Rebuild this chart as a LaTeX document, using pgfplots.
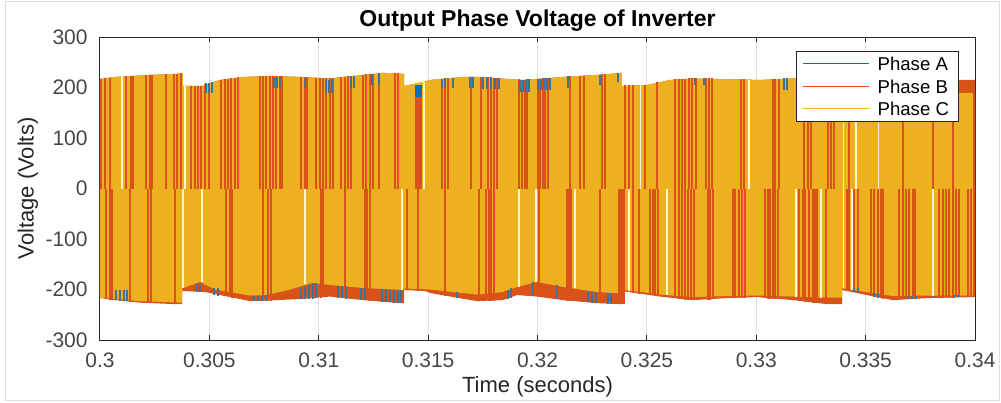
\documentclass[border=0pt]{standalone}
\usepackage{fontspec}
\setmainfont{Liberation Sans}
\usepackage{pgfplots}
\pgfplotsset{compat=1.18}
\usepackage{pgfplotstable}
\definecolor{phA}{RGB}{0,114,189}
\definecolor{phAmix}{RGB}{60,115,150}
\definecolor{phB}{RGB}{217,83,25}
\definecolor{phC}{RGB}{237,177,32}
\definecolor{axgray}{RGB}{38,38,38}
\definecolor{tickgray}{RGB}{70,70,70}
\definecolor{gridgray}{RGB}{222,222,222}
\definecolor{bordergray}{RGB}{222,222,222}
\definecolor{gapcol}{RGB}{255,246,215}

% Phase B envelope (upper edge left->right, lower edge right->left)
\pgfplotstableread{
x y
0.30000 217
0.30069 221
0.30229 225
0.30343 227
0.30379 228
0.30379 203
0.30471 203
0.30503 209
0.30549 215
0.30663 221
0.30777 223
0.30914 221
0.31051 218
0.31202 225
0.31294 229
0.31390 227
0.31390 203
0.31477 211
0.31509 215
0.31659 221
0.31737 221
0.31861 217
0.31934 215
0.32117 221
0.32272 225
0.32386 229
0.32386 203
0.32501 205
0.32606 215
0.32711 218
0.33017 215
0.33168 218
0.33429 217
0.33657 216
0.34000 215
0.34000 -215
0.33781 -217
0.33625 -221
0.33506 -211
0.33392 -201
0.33392 -229
0.33323 -229
0.33168 -221
0.33003 -215
0.32866 -217
0.32711 -221
0.32560 -214
0.32386 -203
0.32386 -229
0.32272 -227
0.32117 -221
0.31998 -214
0.31906 -211
0.31842 -221
0.31723 -223
0.31509 -207
0.31486 -203
0.31390 -201
0.31390 -227
0.31371 -227
0.31202 -221
0.31051 -214
0.30914 -219
0.30754 -222
0.30686 -223
0.30594 -215
0.30480 -205
0.30375 -203
0.30375 -229
0.30343 -229
0.30183 -226
0.30069 -221
0.30000 -217
}\bandB

% Phase C envelope
\pgfplotstableread{
x y
0.30000 217
0.30069 221
0.30229 225
0.30343 227
0.30379 228
0.30379 203
0.30471 203
0.30503 209
0.30549 215
0.30663 221
0.30777 223
0.30914 221
0.31051 218
0.31202 225
0.31294 229
0.31390 227
0.31390 203
0.31477 211
0.31509 215
0.31659 221
0.31737 221
0.31861 217
0.31934 215
0.32117 221
0.32272 225
0.32386 229
0.32386 203
0.32501 205
0.32606 215
0.32711 218
0.33017 215
0.33168 218
0.33429 217
0.33657 216
0.33922 215
0.33922 189
0.34000 189
0.34000 -212
0.33781 -212
0.33625 -213
0.33506 -205
0.33392 -198
0.33392 -216
0.33323 -216
0.33168 -214
0.33003 -212
0.32866 -213
0.32711 -215
0.32560 -210
0.32386 -200
0.32386 -208
0.32272 -205
0.32117 -195
0.31998 -185
0.31906 -195
0.31842 -205
0.31723 -210
0.31509 -200
0.31390 -198
0.31390 -201
0.31202 -197
0.31051 -191
0.30974 -187
0.30869 -200
0.30763 -211
0.30686 -212
0.30526 -200
0.30457 -185
0.30375 -198
0.30375 -226
0.30183 -223
0.30069 -219
0.30000 -216
}\bandC

% Phase B switching pulses, positive half
\pgfplotstableread{
x y
0.30005 217
0.30023 218
0.30046 219
0.30119 222
0.30142 223
0.30151 223
0.30210 225
0.30229 225
0.30238 225
0.30302 226
0.30338 227
0.30352 227
0.30370 228
0.30416 203
0.30434 203
0.30448 203
0.30462 203
0.30480 206
0.30498 208
0.30553 215
0.30571 216
0.30585 217
0.30599 218
0.30617 219
0.30631 220
0.30731 222
0.30745 222
0.30759 223
0.30777 223
0.30791 223
0.30805 223
0.30823 222
0.30832 222
0.30919 221
0.30937 220
0.30946 220
0.30987 219
0.31006 219
0.31019 219
0.31033 218
0.31051 218
0.31065 219
0.31102 220
0.31120 221
0.31134 222
0.31147 223
0.31202 225
0.31216 226
0.31234 226
0.31248 227
0.31275 228
0.31349 228
0.31362 228
0.31563 217
0.31577 218
0.31591 218
0.31696 221
0.31742 221
0.31774 220
0.31787 220
0.31801 219
0.31815 219
0.31915 216
0.31929 215
0.31943 215
0.31952 216
0.32002 217
0.32011 217
0.32025 218
0.32034 218
0.32048 218
0.32149 222
0.32194 223
0.32213 223
0.32295 226
0.32309 226
0.32400 204
0.32418 204
0.32437 204
0.32491 205
0.32546 210
0.32629 216
0.32647 216
0.32661 216
0.32674 216
0.32693 218
0.32706 218
0.32725 218
0.32770 218
0.32784 218
0.32798 218
0.32930 216
0.32944 216
0.33077 217
0.33086 217
0.33104 217
0.33218 218
0.33237 218
0.33250 218
0.33328 217
0.33342 217
0.33355 217
0.33424 217
0.33671 216
0.33808 216
0.33899 215
0.33995 215
}\stripesUp

% Phase B switching pulses, negative half
\pgfplotstableread{
x y
0.30027 -219
0.30046 -220
0.30055 -220
0.30137 -224
0.30219 -227
0.30233 -227
0.30343 -229
0.30576 -213
0.30594 -215
0.30603 -216
0.30745 -222
0.30768 -222
0.30782 -222
0.31010 -216
0.31019 -215
0.31120 -217
0.31211 -221
0.31221 -221
0.31234 -222
0.31403 -201
0.31454 -202
0.31577 -212
0.31733 -223
0.31765 -222
0.31778 -222
0.31787 -222
0.31801 -222
0.32007 -215
0.32135 -222
0.32144 -222
0.32153 -222
0.32286 -227
0.32437 -207
0.32464 -209
0.32514 -210
0.32528 -211
0.32537 -212
0.32551 -213
0.32629 -217
0.32647 -218
0.32661 -219
0.32674 -220
0.32688 -220
0.32702 -221
0.32715 -221
0.32779 -220
0.32789 -220
0.32802 -219
0.32894 -217
0.32903 -217
0.32921 -216
0.32935 -216
0.32949 -216
0.33040 -217
0.33054 -218
0.33063 -218
0.33077 -219
0.33086 -219
0.33099 -219
0.33195 -222
0.33214 -223
0.33223 -224
0.33241 -225
0.33319 -229
0.33447 -205
0.33465 -207
0.33525 -213
0.33538 -214
0.33557 -216
0.33570 -217
0.33579 -218
0.33653 -220
0.33671 -219
0.33685 -219
0.33698 -219
0.33717 -218
0.33726 -218
0.33835 -217
0.33854 -216
0.33867 -216
0.33881 -216
0.33899 -216
0.33913 -215
0.33927 -215
0.33968 -215
0.33982 -215
0.33995 -215
}\stripesDown

% switching gaps of Phase C
\pgfplotstableread{
x y
0.30101 222
0.30389 203
0.31481 211
0.32469 205
0.32967 215
0.33397 217
0.33456 217
0.33557 216
0.30379 -198
0.30466 -186
0.30937 -190
0.31381 -201
0.31915 -195
0.31993 -186
0.32171 -197
0.32418 -202
0.32592 -211
0.33182 -214
0.33296 -216
0.33397 -198
0.33438 -200
0.33808 -212
}\gaps

\begin{document}
\begin{tikzpicture}
\useasboundingbox (0,0) rectangle (500.5pt,201pt);
\draw[bordergray, line width=0.5pt] (2.5pt,0.8pt) rectangle (499.5pt,200pt);
\begin{axis}[
  at={(50pt,31pt)}, anchor=south west,
  scale only axis, width=437.5pt, height=151.5pt,
  xmin=0.3, xmax=0.34, ymin=-300, ymax=300,
  xtick={0.3,0.305,0.31,0.315,0.32,0.325,0.33,0.335,0.34},
  xticklabels={0.3,0.305,0.31,0.315,0.32,0.325,0.33,0.335,0.34},
  ytick={-300,-200,-100,0,100,200,300},
  yticklabels={-300,-200,-100,0,100,200,300},
  scaled x ticks=false,
  tick align=inside, major tick length=2.5pt,
  axis line style={axgray, line width=0.5pt},
  tick style={axgray, line width=0.5pt},
  xmajorgrids, ymajorgrids,
  grid style={gridgray, line width=0.5pt},
  xticklabel style={anchor=base, yshift=-13.5pt, text=tickgray, font=\fontsize{10.5}{12}\selectfont},
  yticklabel style={anchor=east, inner sep=0pt, xshift=-6pt, text=tickgray, font=\fontsize{10.5}{12}\selectfont},
  title={Output Phase Voltage of Inverter},
  every axis title/.style={at={(axis description cs:0.5,1.0363)}, anchor=base, font=\bfseries\fontsize{11.5}{13}\selectfont},
  xlabel={Time (seconds)},
  xlabel style={at={(axis description cs:0.5,-0.1749)}, anchor=base, text=axgray, font=\fontsize{11}{13}\selectfont},
  ylabel={Voltage (Volts)},
  ylabel style={at={(axis description cs:-0.0823,0.5)}, anchor=center, text=axgray, font=\fontsize{11}{13}\selectfont},
  legend image code/.code={\draw[#1] (0pt,0pt) -- (33pt,0pt);},
  legend style={at={(0.981,0.954)}, anchor=north east, draw=axgray, line width=0.4pt, fill=white,
    font=\fontsize{9.3}{11}\selectfont, inner xsep=3pt, inner ysep=1.4pt, row sep=1.55pt,
    nodes={inner sep=1.5pt, text height=6.7pt, text depth=0pt},
    /tikz/every odd column/.style={column sep=2.5pt}},
  legend cell align=left,
  unbounded coords=jump,
]
% Phase B area
\addplot[fill=phB, draw=none, forget plot] table {\bandB};
% Phase C area
\addplot[fill=phC, draw=none, forget plot] table {\bandC};
% Phase B pulses
\addplot[ycomb, color=phB, line width=1.0pt, forget plot] table {\stripesUp};
\addplot[ycomb, color=phB, line width=1.0pt, forget plot] table {\stripesDown};
\addplot[ycomb, color=phB, line width=3.3pt, forget plot] coordinates {(0.31457,181) (0.32384,-229)};
\addplot[ycomb, color=phB, line width=3pt, forget plot] coordinates {(0.33269,-226)};
\addplot[ycomb, color=phB, line width=2pt, forget plot] coordinates {(0.33419,-203)};
% Phase A pulses near the envelope
\addplot[color=phA, line width=3.3pt, forget plot] coordinates {(0.31457,181) (0.31457,205)};
\addplot[color=phAmix, line width=0.75pt, forget plot] coordinates {
(0.30485,190)(0.30485,208)(0.30485,nan)
(0.30498,190)(0.30498,208)(0.30498,nan)
(0.30512,190)(0.30512,210)(0.30512,nan)
(0.30795,200)(0.30795,220)(0.30795,nan)
(0.30809,200)(0.30809,220)(0.30809,nan)
(0.30823,200)(0.30823,220)(0.30823,nan)
(0.30937,200)(0.30937,219)(0.30937,nan)
(0.31033,190)(0.31033,215)(0.31033,nan)
(0.31047,190)(0.31047,215)(0.31047,nan)
(0.31061,190)(0.31061,216)(0.31061,nan)
(0.31147,200)(0.31147,222)(0.31147,nan)
(0.31161,200)(0.31161,222)(0.31161,nan)
(0.31243,205)(0.31243,226)(0.31243,nan)
(0.31275,205)(0.31275,228)(0.31275,nan)
(0.31563,200)(0.31563,217)(0.31563,nan)
(0.31577,200)(0.31577,218)(0.31577,nan)
(0.31614,200)(0.31614,219)(0.31614,nan)
(0.31691,200)(0.31691,221)(0.31691,nan)
(0.31705,200)(0.31705,221)(0.31705,nan)
(0.31751,198)(0.31751,220)(0.31751,nan)
(0.31769,198)(0.31769,220)(0.31769,nan)
(0.31787,198)(0.31787,220)(0.31787,nan)
(0.31806,198)(0.31806,219)(0.31806,nan)
(0.31824,198)(0.31824,218)(0.31824,nan)
(0.31920,192)(0.31920,215)(0.31920,nan)
(0.31934,192)(0.31934,215)(0.31934,nan)
(0.31947,192)(0.31947,215)(0.31947,nan)
(0.31961,192)(0.31961,216)(0.31961,nan)
(0.32002,195)(0.32002,217)(0.32002,nan)
(0.32016,195)(0.32016,217)(0.32016,nan)
(0.32030,195)(0.32030,218)(0.32030,nan)
(0.32043,195)(0.32043,218)(0.32043,nan)
(0.32057,195)(0.32057,218)(0.32057,nan)
(0.32139,200)(0.32139,222)(0.32139,nan)
(0.32286,205)(0.32286,225)(0.32286,nan)
(0.32368,210)(0.32368,229)(0.32368,nan)
(0.32720,205)(0.32720,218)(0.32720,nan)
(0.32761,205)(0.32761,218)(0.32761,nan)
(0.33127,195)(0.33127,218)(0.33127,nan)
(0.33141,195)(0.33141,218)(0.33141,nan)
(0.30073,-200)(0.30073,-221)(0.30073,nan)
(0.30091,-200)(0.30091,-222)(0.30091,nan)
(0.30110,-200)(0.30110,-222)(0.30110,nan)
(0.30123,-200)(0.30123,-223)(0.30123,nan)
(0.30443,-190)(0.30443,-204)(0.30443,nan)
(0.30457,-190)(0.30457,-204)(0.30457,nan)
(0.30521,-198)(0.30521,-210)(0.30521,nan)
(0.30539,-198)(0.30539,-212)(0.30539,nan)
(0.30704,-212)(0.30704,-223)(0.30704,nan)
(0.30722,-212)(0.30722,-223)(0.30722,nan)
(0.30741,-212)(0.30741,-222)(0.30741,nan)
(0.30759,-211)(0.30759,-222)(0.30759,nan)
(0.30919,-195)(0.30919,-219)(0.30919,nan)
(0.30937,-193)(0.30937,-219)(0.30937,nan)
(0.30955,-190)(0.30955,-218)(0.30955,nan)
(0.30974,-188)(0.30974,-218)(0.30974,nan)
(0.30987,-188)(0.30987,-217)(0.30987,nan)
(0.31088,-193)(0.31088,-216)(0.31088,nan)
(0.31106,-193)(0.31106,-217)(0.31106,nan)
(0.31125,-194)(0.31125,-218)(0.31125,nan)
(0.31193,-197)(0.31193,-220)(0.31193,nan)
(0.31211,-197)(0.31211,-221)(0.31211,nan)
(0.31289,-199)(0.31289,-224)(0.31289,nan)
(0.31307,-199)(0.31307,-224)(0.31307,nan)
(0.31326,-200)(0.31326,-225)(0.31326,nan)
(0.31344,-200)(0.31344,-226)(0.31344,nan)
(0.31362,-200)(0.31362,-226)(0.31362,nan)
(0.31376,-200)(0.31376,-227)(0.31376,nan)
(0.31632,-205)(0.31632,-217)(0.31632,nan)
(0.31865,-200)(0.31865,-219)(0.31865,nan)
(0.31879,-198)(0.31879,-217)(0.31879,nan)
(0.31979,-186)(0.31979,-213)(0.31979,nan)
(0.32089,-192)(0.32089,-219)(0.32089,nan)
(0.32231,-203)(0.32231,-225)(0.32231,nan)
(0.32249,-204)(0.32249,-226)(0.32249,nan)
(0.32267,-205)(0.32267,-227)(0.32267,nan)
(0.32322,-206)(0.32322,-228)(0.32322,nan)
(0.32336,-206)(0.32336,-228)(0.32336,nan)
(0.33447,-198)(0.33447,-205)(0.33447,nan)
(0.33465,-198)(0.33465,-207)(0.33465,nan)
(0.33538,-206)(0.33538,-214)(0.33538,nan)
(0.33557,-206)(0.33557,-216)(0.33557,nan)
(0.33694,-212)(0.33694,-219)(0.33694,nan)
(0.33712,-212)(0.33712,-218)(0.33712,nan)
(0.33730,-212)(0.33730,-218)(0.33730,nan)
(0.33808,-211)(0.33808,-217)(0.33808,nan)
(0.33904,-211)(0.33904,-216)(0.33904,nan)
(0.33922,-211)(0.33922,-215)(0.33922,nan)
};
% gaps between pulses
\addplot[ycomb, color=gapcol, line width=0.6pt, forget plot] table {\gaps};
% legend
\addlegendimage{color=phA, line width=0.6pt}
\addlegendentry{Phase A}
\addlegendimage{color=phB, line width=0.6pt}
\addlegendentry{Phase B}
\addlegendimage{color=phC, line width=0.6pt}
\addlegendentry{Phase C}
\end{axis}
\end{tikzpicture}
\end{document}
